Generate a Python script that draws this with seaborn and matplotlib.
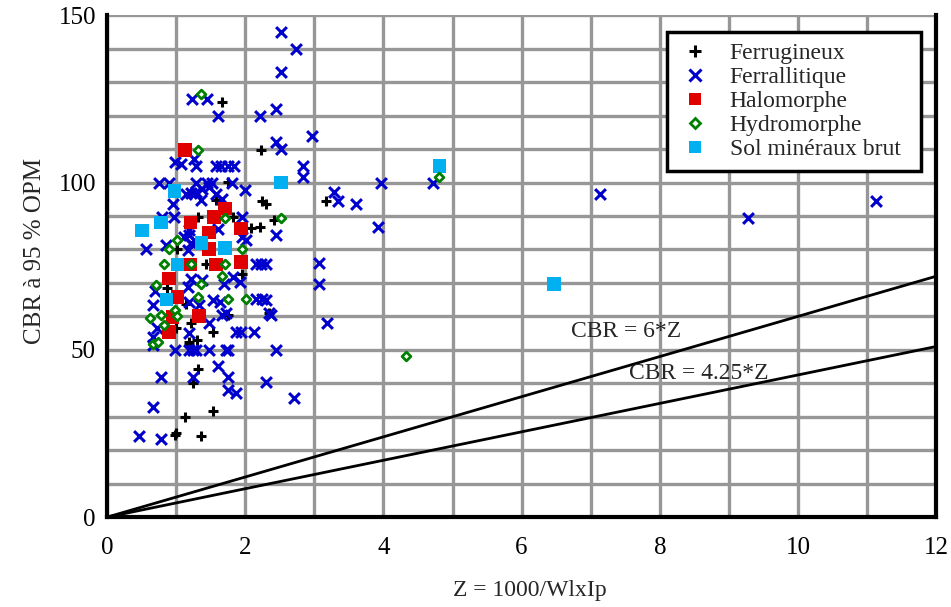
import matplotlib
matplotlib.use("Agg")
import matplotlib.pyplot as plt
import seaborn as sns
import numpy as np
import pandas as pd
from matplotlib.lines import Line2D

# ---------------- data ----------------
ferrug_x = [1.67, 2.23, 1.75, 2.25, 2.30, 1.58, 1.82, 1.31, 2.42, 2.08, 2.21, 3.17,
            1.02, 1.43, 1.96, 0.87, 1.14, 1.75, 2.35, 1.21, 1.00, 1.53, 1.30, 1.19, 1.19,
            1.32, 1.24, 1.13, 1.53, 1.00, 0.98, 1.36]
ferrug_y = [124, 109.7, 100.2, 94.5, 93.5, 94.7, 89.7, 89.7, 88.7, 86.4, 86.6, 94.5,
            80.1, 75.5, 72.8, 68.5, 63.8, 60.4, 61.0, 57.9, 56.4, 55.2, 52.9, 52.2, 51.4,
            44.4, 40.1, 30.0, 31.7, 25.2, 24.5, 24.2]

ferral_x = [2.52, 2.73, 2.52, 1.23, 1.44, 1.60, 2.21, 2.45, 2.96, 2.45, 2.52,
            0.99, 1.07, 1.26, 1.29, 1.58, 1.65, 1.75, 1.84, 2.83, 2.83,
            0.75, 0.90, 1.29, 1.45, 1.52, 1.81, 1.99,
            1.14, 1.21, 1.29, 1.38, 1.48, 1.58, 1.67, 1.36, 0.95,
            3.29, 3.34, 3.61, 3.96, 4.72, 3.92, 7.14, 9.27, 11.13,
            0.80, 0.97, 1.96,
            1.19, 1.60, 2.45, 1.96, 2.01, 1.12, 1.19, 1.29, 0.85, 1.21,
            0.56, 1.17, 2.16, 2.23, 2.30, 3.07,
            1.21, 1.38, 1.82, 1.70, 1.92, 3.07, 0.70, 1.17,
            0.66, 1.19, 1.33, 1.53, 1.63, 2.16, 2.25, 2.30,
            1.67, 1.72, 2.35, 2.37, 3.18,
            1.48, 0.73, 1.19, 1.87, 1.94, 2.13, 0.66, 0.66,
            0.99, 1.19, 1.24, 1.29, 1.48, 1.72, 1.75, 2.45,
            0.78, 1.24, 1.60, 1.75, 1.75, 1.87, 2.30, 2.71, 0.67, 0.47, 0.78]
ferral_y = [145, 140, 133, 125, 125, 120, 120, 122, 114, 112, 110,
            106, 105.5, 107, 105, 105, 105, 105, 105, 105, 101.7,
            100, 100, 100, 100, 100, 100, 97.7,
            96.7, 97, 97.2, 98.2, 98.7, 96.7, 95.2, 94.7, 93.7,
            97.2, 94.5, 93.7, 100, 99.9, 86.6, 96.7, 89.5, 94.4,
            89.7, 89.7, 89.7,
            85.7, 86.2, 84.3, 83.7, 82.7, 83.7, 84.3, 82.3, 81.3, 81.8,
            80, 79.8, 75.5, 75.5, 75.5, 76,
            71.3, 70.8, 71.8, 69.8, 70.3, 69.8, 67.5, 68.8,
            63.3, 64.3, 63.3, 64.8, 64.3, 65.3, 65.3, 64.8,
            60.4, 60.9, 60.9, 60.4, 57.9,
            57.9, 56.4, 54.9, 55.4, 55.4, 55.4, 53.9, 51.4,
            50, 50, 50, 50, 50, 50, 50, 50,
            41.9, 41.9, 45.1, 41.9, 37.9, 37.1, 40.4, 35.5, 33, 24.2, 23.5]

halo_x = [1.13, 1.71, 1.55, 1.21, 1.48, 1.94, 1.48, 1.94, 1.21, 1.58, 0.90, 1.02, 0.95, 1.33, 0.90]
halo_y = [109.7, 92.2, 89.7, 88.0, 85.0, 86.3, 80.1, 76.3, 75.5, 75.5, 71.3, 65.8, 59.8, 60.1, 55.4]

hydro_x = [1.36, 1.32, 1.71, 2.52, 1.02, 0.90, 1.95, 0.83, 1.21, 1.71, 1.67, 0.71, 1.36,
           1.32, 1.75, 2.01, 0.99, 1.02, 0.78, 0.62, 0.83, 0.66, 0.74, 4.81, 4.33]
hydro_y = [126.5, 109.7, 89.5, 89.5, 82.8, 80.1, 80.1, 75.5, 75.5, 75.5, 72.1, 69.5, 69.8,
           65.8, 65.1, 65.1, 61.8, 60.1, 60.4, 59.5, 57.4, 51.7, 52.2, 101.7, 48.1]

sol_x = [0.51, 0.78, 0.98, 1.02, 0.86, 1.37, 1.71, 2.52, 4.81, 6.47]
sol_y = [85.7, 88.0, 97.5, 75.5, 65.0, 82.0, 80.5, 100.0, 104.9, 69.6]

series_names = ["Ferrugineux", "Ferrallitique", "Halomorphe", "Hydromorphe", "Sol minéraux brut"]

line_slopes = [6.0, 4.25]
line_labels = ["CBR = 6*Z", "CBR = 4.25*Z"]
line_x = [0, 12]

x_ticks = [0, 2, 4, 6, 8, 10, 12]
y_ticks = [0, 50, 100, 150]

# ---------------- plot ----------------
sns.set_theme(style="white")
plt.rcParams['font.family'] = ['Liberation Serif', 'DejaVu Serif']

fig = plt.figure(figsize=(9.51, 6.07), dpi=100)
ax = fig.add_axes([0.1125, 0.148, 0.872, 0.827])

ax.set_xlim(0, 12)
ax.set_ylim(0, 150)

# grid
ax.set_xticks(np.arange(0, 13, 1), minor=True)
ax.set_yticks(np.arange(0, 151, 10), minor=True)
ax.grid(True, which='both', color='#979797', linewidth=2.4, linestyle='-')
ax.set_axisbelow(True)

# reference lines
for slope, lab in zip(line_slopes, line_labels):
    df_l = pd.DataFrame({"x": line_x, "y": [slope * v for v in line_x]})
    sns.lineplot(data=df_l, x="x", y="y", ax=ax, color='black', linewidth=2.0)

ax.text(6.72, 55.5, line_labels[0], fontsize=17, va='center', ha='left')
ax.text(7.55, 43.0, line_labels[1], fontsize=17, va='center', ha='left')

df_f = pd.DataFrame({"x": ferrug_x, "y": ferrug_y})
df_a = pd.DataFrame({"x": ferral_x, "y": ferral_y})
df_h = pd.DataFrame({"x": halo_x, "y": halo_y})
df_d = pd.DataFrame({"x": hydro_x, "y": hydro_y})
df_s = pd.DataFrame({"x": sol_x, "y": sol_y})

sns.scatterplot(data=df_f, x="x", y="y", ax=ax, marker='+', s=55, color='black',
                linewidth=2.2, zorder=3)
sns.scatterplot(data=df_a, x="x", y="y", ax=ax, marker='x', s=60, color='#0000cc',
                linewidth=2.2, zorder=3)
sns.scatterplot(data=df_h, x="x", y="y", ax=ax, marker='s', s=95, color='#e00000',
                edgecolor='none', zorder=4)
sns.scatterplot(data=df_d, x="x", y="y", ax=ax, marker='D', s=20, facecolor='white',
                edgecolor='#008000', linewidth=2.0, zorder=5)
sns.scatterplot(data=df_s, x="x", y="y", ax=ax, marker='s', s=95, color='#00b0f0',
                edgecolor='none', zorder=4)

# axes styling
ax.set_xticks(x_ticks)
ax.set_yticks(y_ticks)
ax.set_xticklabels([str(v) for v in x_ticks], fontsize=18)
ax.set_yticklabels([str(v) for v in y_ticks], fontsize=18)
ax.tick_params(axis='both', which='major', direction='in', length=6, width=2, colors='black')
ax.tick_params(axis='x', which='major', pad=14)
ax.tick_params(axis='y', which='major', pad=8)
ax.tick_params(axis='both', which='minor', length=0)
ax.set_xlabel("Z = 1000/WlxIp", fontsize=17)
ax.set_ylabel("CBR à 95 % OPM", fontsize=18)
ax.xaxis.set_label_coords(0.51, -0.125)
ax.yaxis.set_label_coords(-0.073, 0.53)

for side in ['left', 'bottom', 'right']:
    ax.spines[side].set_visible(True)
    ax.spines[side].set_color('black')
    ax.spines[side].set_linewidth(3)
ax.spines['top'].set_visible(False)

# legend
handles = [
    Line2D([], [], marker='+', linestyle='none', color='black', markersize=9, markeredgewidth=2.2),
    Line2D([], [], marker='x', linestyle='none', color='#0000cc', markersize=9, markeredgewidth=2.2),
    Line2D([], [], marker='s', linestyle='none', color='#e00000', markersize=9, markeredgewidth=0),
    Line2D([], [], marker='D', linestyle='none', markerfacecolor='white', markeredgecolor='#008000',
           markersize=5, markeredgewidth=2),
    Line2D([], [], marker='s', linestyle='none', color='#00b0f0', markersize=9, markeredgewidth=0),
]
leg = ax.legend(handles, series_names, loc='upper left',
                bbox_to_anchor=(0.6755, 0.966, 0.306, 0.0), mode='expand',
                frameon=True, fancybox=False, fontsize=17, handletextpad=0.7,
                labelspacing=0.1, borderpad=0.45, handlelength=1.5, borderaxespad=0)
leg.get_frame().set_edgecolor('black')
leg.get_frame().set_linewidth(2.5)
leg.get_frame().set_facecolor('white')
leg.get_frame().set_alpha(1)

fig.savefig("out.png", dpi=100)
